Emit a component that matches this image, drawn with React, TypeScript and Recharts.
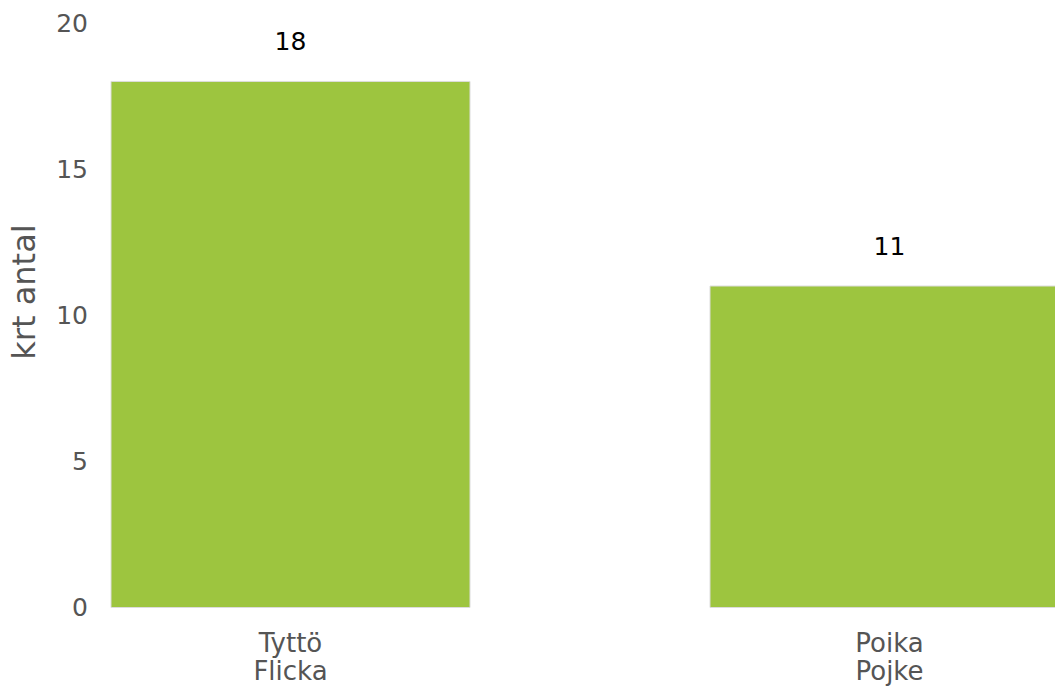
import React from "react";
import { BarChart, Bar, XAxis, YAxis, LabelList } from "recharts";

const categories = ["Tyttö\nFlicka", "Poika\nPojke"];
const counts = [18, 11];
const yTicks = [0, 5, 10, 15, 20];

const data = categories.map((name, i) => ({ name, value: counts[i] }));

const GREY = "#555555";
const FONT = "DejaVu Sans, sans-serif";

function CategoryTick(props: any) {
  const { x, y, payload } = props;
  const lines = String(payload.value).split("\n");
  return (
    <text x={x} y={y} textAnchor="middle" fill={GREY} fontSize={26} fontFamily={FONT}>
      {lines.map((line, i) => (
        <tspan key={i} x={x} dy={i === 0 ? 44 : 28.5}>
          {line}
        </tspan>
      ))}
    </text>
  );
}

function YTitle() {
  const cx = 35;
  const cy = 292;
  return (
    <text
      x={cx}
      y={cy}
      transform={`rotate(-90, ${cx}, ${cy})`}
      textAnchor="middle"
      fill={GREY}
      fontSize={32}
      fontFamily={FONT}
    >
      krt antal
    </text>
  );
}

export default function App() {
  return (
    <div
      style={{
        position: "absolute",
        left: 0,
        top: 0,
        width: 1055,
        height: 686,
        overflow: "hidden",
        background: "#fff",
      }}
    >
      <BarChart
        width={1055}
        height={686}
        data={data}
        margin={{ top: 23, right: 0, bottom: 0, left: 0 }}
      >
        <XAxis
          dataKey="name"
          axisLine={false}
          tickLine={false}
          tickSize={0}
          tickMargin={0}
          height={78.5}
          padding={{ left: -119, right: -134 }}
          tick={<CategoryTick />}
          interval={0}
        />
        <YAxis
          width={110}
          domain={[0, 20]}
          ticks={yTicks}
          axisLine={false}
          tickLine={false}
          tickSize={0}
          tickMargin={22}
          tick={{ fill: GREY, fontSize: 25, fontFamily: FONT }}
          label={<YTitle />}
        />
        <Bar
          dataKey="value"
          fill="#9DC53F"
          stroke="#dcdcdc"
          strokeWidth={1}
          barSize={359}
          isAnimationActive={false}
        >
          <LabelList
            dataKey="value"
            position="top"
            offset={31}
            fill="#000"
            fontSize={25}
            fontFamily={FONT}
          />
        </Bar>
      </BarChart>
    </div>
  );
}
